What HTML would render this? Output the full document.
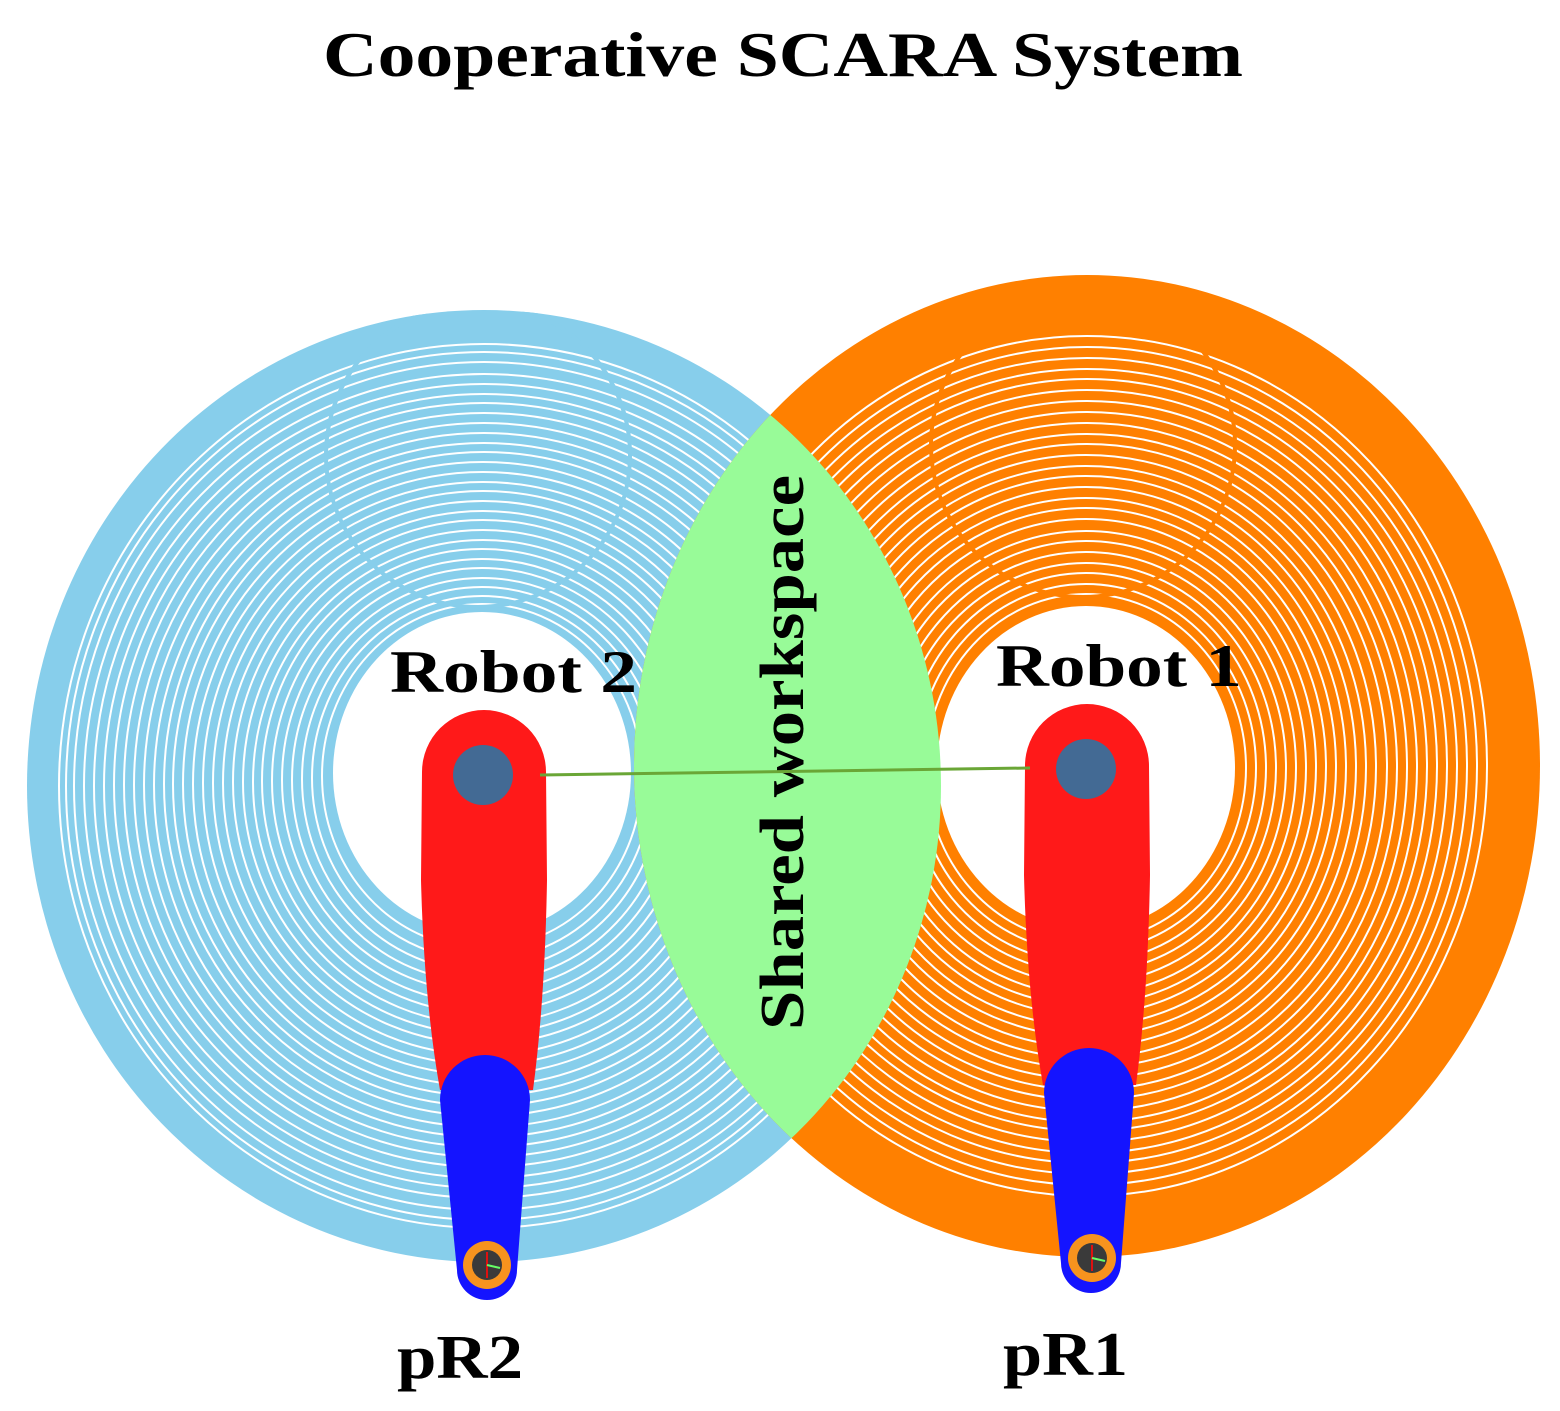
<!DOCTYPE html>
<html><head><meta charset="utf-8"><style>body{margin:0;background:#fff}svg{display:block}</style></head><body>
<svg width="1560" height="1411" viewBox="0 0 1560 1411" xmlns="http://www.w3.org/2000/svg" font-family="Liberation Serif, serif" font-weight="bold">
<defs>
<clipPath id="cb"><ellipse cx="484" cy="786" rx="457" ry="476"/></clipPath>
<clipPath id="co"><ellipse cx="1087" cy="766" rx="453" ry="491"/></clipPath>
</defs>
<text x="323" y="76" font-size="64" textLength="920" lengthAdjust="spacingAndGlyphs">Cooperative SCARA System</text>
<!-- blue ring -->
<ellipse cx="484" cy="786" rx="457" ry="476" fill="#87ceeb"/>
<g fill="none" stroke="#fff" stroke-width="2" clip-path="url(#cb)">
<ellipse cx="482" cy="776" rx="160" ry="172"/><ellipse cx="482" cy="778" rx="170" ry="182"/><ellipse cx="482" cy="779" rx="180" ry="192"/><ellipse cx="482" cy="780" rx="190" ry="202"/><ellipse cx="482" cy="780" rx="200" ry="212"/><ellipse cx="482" cy="781" rx="210" ry="222"/><ellipse cx="482" cy="781" rx="220" ry="232"/><ellipse cx="483" cy="782" rx="230" ry="242"/><ellipse cx="483" cy="782" rx="240" ry="252"/><ellipse cx="483" cy="782" rx="250" ry="262"/><ellipse cx="483" cy="783" rx="260" ry="272"/><ellipse cx="483" cy="783" rx="270" ry="282"/><ellipse cx="483" cy="783" rx="280" ry="292"/><ellipse cx="483" cy="784" rx="290" ry="302"/><ellipse cx="483" cy="784" rx="300" ry="312"/><ellipse cx="483" cy="784" rx="310" ry="322"/><ellipse cx="484" cy="784" rx="320" ry="332"/><ellipse cx="484" cy="785" rx="330" ry="342"/><ellipse cx="484" cy="785" rx="340" ry="352"/><ellipse cx="484" cy="785" rx="350" ry="362"/><ellipse cx="484" cy="785" rx="360" ry="372"/><ellipse cx="484" cy="785" rx="370" ry="382"/><ellipse cx="484" cy="786" rx="380" ry="392"/><ellipse cx="484" cy="786" rx="390" ry="402"/><ellipse cx="484" cy="786" rx="400" ry="412"/><ellipse cx="484" cy="786" rx="410" ry="424"/><ellipse cx="484" cy="786" rx="418" ry="434"/><ellipse cx="484" cy="786" rx="425" ry="442"/>
</g>
<g clip-path="url(#cb)"><circle cx="478" cy="455" r="152" fill="none" stroke="#87ceeb" stroke-width="4"/></g>
<ellipse cx="482" cy="773" rx="149" ry="161" fill="#fff"/>
<!-- orange ring -->
<ellipse cx="1087" cy="766" rx="453" ry="491" fill="#ff8000"/>
<g fill="none" stroke="#fff" stroke-width="2" clip-path="url(#co)">
<ellipse cx="1086" cy="768" rx="160" ry="174"/><ellipse cx="1086" cy="768" rx="170" ry="184"/><ellipse cx="1086" cy="768" rx="180" ry="195"/><ellipse cx="1086" cy="768" rx="190" ry="205"/><ellipse cx="1086" cy="768" rx="200" ry="216"/><ellipse cx="1086" cy="768" rx="210" ry="227"/><ellipse cx="1086" cy="768" rx="220" ry="237"/><ellipse cx="1086" cy="767" rx="230" ry="248"/><ellipse cx="1086" cy="767" rx="240" ry="259"/><ellipse cx="1086" cy="767" rx="250" ry="269"/><ellipse cx="1086" cy="767" rx="260" ry="280"/><ellipse cx="1086" cy="767" rx="270" ry="291"/><ellipse cx="1086" cy="767" rx="280" ry="301"/><ellipse cx="1086" cy="767" rx="290" ry="312"/><ellipse cx="1087" cy="767" rx="300" ry="323"/><ellipse cx="1087" cy="767" rx="310" ry="333"/><ellipse cx="1087" cy="767" rx="320" ry="344"/><ellipse cx="1087" cy="767" rx="330" ry="355"/><ellipse cx="1087" cy="766" rx="340" ry="365"/><ellipse cx="1087" cy="766" rx="350" ry="376"/><ellipse cx="1087" cy="766" rx="360" ry="387"/><ellipse cx="1087" cy="766" rx="370" ry="397"/><ellipse cx="1087" cy="766" rx="380" ry="408"/><ellipse cx="1087" cy="766" rx="390" ry="419"/><ellipse cx="1087" cy="766" rx="400" ry="430"/>
</g>
<g clip-path="url(#co)"><circle cx="1083" cy="445" r="152" fill="none" stroke="#ff8000" stroke-width="4"/></g>
<ellipse cx="1086" cy="768" rx="149" ry="162" fill="#fff"/>
<!-- lens -->
<g clip-path="url(#cb)"><ellipse cx="1087" cy="766" rx="453" ry="491" fill="#98fb98"/></g>
<text transform="translate(803,1030) rotate(-90)" font-size="62" textLength="555" lengthAdjust="spacingAndGlyphs">Shared workspace</text>
<text x="390" y="692" font-size="60" textLength="247" lengthAdjust="spacingAndGlyphs">Robot 2</text>
<text x="996" y="686" font-size="60" textLength="246" lengthAdjust="spacingAndGlyphs">Robot 1</text>
<!-- robot 2 -->
<path d="M422,772 A62,62 0 0 1 546,772 L547,880 Q545,1000 533,1090 L440,1090 Q424,1000 421,880 Z" fill="#ff1919"/>
<path d="M440,1100 A45,45 0 0 1 530,1100 L517,1270 A30,30 0 0 1 457,1270 Z" fill="#1414ff"/>
<circle cx="487" cy="1265" r="24" fill="#f7931e"/><circle cx="487" cy="1265" r="15" fill="#3a3a3a"/>
<line x1="487" y1="1252" x2="487" y2="1278" stroke="#e01010" stroke-width="2"/><line x1="487" y1="1265" x2="500" y2="1268" stroke="#6f6" stroke-width="2"/>
<circle cx="483" cy="775" r="30" fill="#436a94"/>
<!-- robot 1 -->
<path d="M1025,766 A62,62 0 0 1 1149,766 L1150,875 Q1148,995 1136,1085 L1043,1085 Q1027,995 1024,875 Z" fill="#ff1919"/>
<path d="M1044,1093 A45,45 0 0 1 1134,1093 L1121,1263 A30,30 0 0 1 1061,1263 Z" fill="#1414ff"/>
<circle cx="1092" cy="1258" r="24" fill="#f7931e"/><circle cx="1092" cy="1258" r="15" fill="#3a3a3a"/>
<line x1="1092" y1="1245" x2="1092" y2="1271" stroke="#e01010" stroke-width="2"/><line x1="1092" y1="1258" x2="1105" y2="1261" stroke="#6f6" stroke-width="2"/>
<circle cx="1086" cy="769" r="30" fill="#436a94"/>
<line x1="540" y1="775" x2="1030" y2="768" stroke="#6aa636" stroke-width="3"/>
<text x="397" y="1378" font-size="62" textLength="126" lengthAdjust="spacingAndGlyphs">pR2</text>
<text x="1003" y="1375" font-size="62" textLength="125" lengthAdjust="spacingAndGlyphs">pR1</text>
</svg>
</body></html>
